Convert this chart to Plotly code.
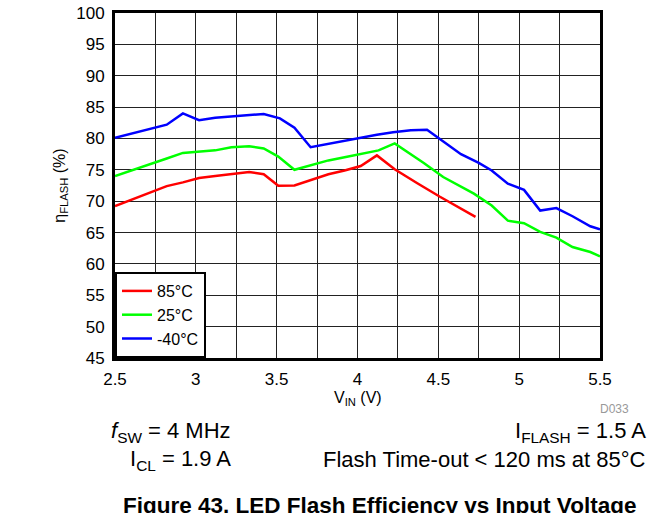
import plotly.graph_objects as go

# Efficiency vs input voltage
vin_85 = [2.5, 2.62, 2.73, 2.82, 2.92, 3.02, 3.12, 3.22, 3.33, 3.42, 3.51, 3.61,
          3.72, 3.82, 3.92, 4.02, 4.12, 4.23, 4.37, 4.51, 4.73]
eff_85 = [69.2, 70.4, 71.6, 72.4, 73.0, 73.7, 74.0, 74.3, 74.65, 74.3, 72.45, 72.5,
          73.4, 74.3, 74.9, 75.6, 77.3, 75.1, 72.85, 70.7, 67.5]

vin_25 = [2.5, 2.73, 2.82, 2.92, 3.02, 3.12, 3.22, 3.33, 3.42, 3.51, 3.61, 3.72,
          3.82, 3.92, 4.0, 4.13, 4.23, 4.41, 4.53, 4.63, 4.72, 4.83, 4.93, 5.03,
          5.13, 5.23, 5.33, 5.44, 5.5]
eff_25 = [74.0, 76.1, 76.8, 77.7, 77.85, 78.1, 78.6, 78.75, 78.4, 77.1, 75.0, 75.8,
          76.5, 77.0, 77.45, 78.1, 79.2, 76.1, 73.85, 72.5, 71.2, 69.3, 66.9, 66.5,
          65.1, 64.2, 62.7, 61.9, 61.2]

vin_m40 = [2.5, 2.82, 2.92, 3.02, 3.12, 3.22, 3.33, 3.42, 3.52, 3.61, 3.71, 3.81,
           3.92, 4.02, 4.12, 4.22, 4.33, 4.43, 4.64, 4.75, 4.83, 4.93, 5.03, 5.13,
           5.23, 5.33, 5.44, 5.5]
eff_m40 = [80.1, 82.2, 84.0, 82.9, 83.3, 83.5, 83.8, 83.9, 83.2, 81.7, 78.6, 79.1,
           79.7, 80.1, 80.6, 81.0, 81.3, 81.4, 77.5, 76.1, 74.9, 72.8, 71.8, 68.5,
           68.9, 67.6, 66.0, 65.5]

series = [
    ("85°C", vin_85, eff_85, "#FF0000"),
    ("25°C", vin_25, eff_25, "#00FF00"),
    ("-40°C", vin_m40, eff_m40, "#0000FF"),
]

FONT = "Liberation Sans, Arial, sans-serif"

fig = go.Figure()
for name, x, y, colour in series:
    fig.add_trace(go.Scatter(
        x=x, y=y, name=name, mode="lines",
        line=dict(color=colour, width=2.5),
    ))

axis_common = dict(
    showline=True, linewidth=3, linecolor="black", mirror=True,
    showgrid=True, gridcolor="#222", gridwidth=1,
    zeroline=False, ticks="", automargin=False,
    ticklabeloverflow="allow",
    tickfont=dict(family=FONT, size=17, color="black"),
)

fig.update_layout(
    width=663, height=513,
    margin=dict(l=115, r=63, t=13, b=155),
    paper_bgcolor="white", plot_bgcolor="white",
    font=dict(family=FONT, size=16, color="black"),
    xaxis=dict(range=[2.5, 5.5], dtick=0.5, tick0=2.5,
               minor=dict(dtick=0.25, showgrid=True, gridcolor="#222", gridwidth=1),
               ticklabelstandoff=4, **axis_common),
    yaxis=dict(range=[45, 100], dtick=5, tick0=45,
               ticklabelstandoff=4, **axis_common),
    legend=dict(x=0, y=0, xanchor="left", yanchor="bottom",
                bgcolor="white", bordercolor="black", borderwidth=2,
                font=dict(family=FONT, size=16, color="black"),
                tracegroupgap=0),
    showlegend=True,
)

annotations = [
    # axis titles
    dict(x=0.501, y=-0.118, text="V<sub>IN</sub> (V)", xanchor="center",
         font=dict(size=16)),
    dict(x=-0.113, y=0.5, text="η<sub>FLASH</sub> (%)", textangle=-90,
         xanchor="center", font=dict(size=16)),
    dict(x=1.03, y=-0.148, text="D033", xanchor="center",
         font=dict(size=12, color="#999999")),
    # test conditions
    dict(x=-0.012, y=-0.214, text="<i>f</i><sub>SW</sub> = 4 MHz", xanchor="left",
         font=dict(size=22)),
    dict(x=0.2433, y=-0.295, text="I<sub>CL</sub> = 1.9 A", xanchor="right",
         font=dict(size=22)),
    dict(x=1.099, y=-0.214, text="I<sub>FLASH</sub> = 1.5 A", xanchor="right",
         font=dict(size=22)),
    dict(x=1.099, y=-0.295, text="Flash Time-out &lt; 120 ms at 85°C", xanchor="right",
         font=dict(size=22)),
    # caption
    dict(x=0.546, y=-0.428, text="<b>Figure 43. LED Flash Efficiency vs Input Voltage</b>",
         xanchor="center", font=dict(size=22.5)),
]
for a in annotations:
    fig.add_annotation(xref="paper", yref="paper", showarrow=False,
                       yanchor="middle", **a)

# drop the default body margin so the figure sits at the window's corner
fig.write_html("out.html", config={"displayModeBar": False},
               post_script="document.body.style.margin='0';")
